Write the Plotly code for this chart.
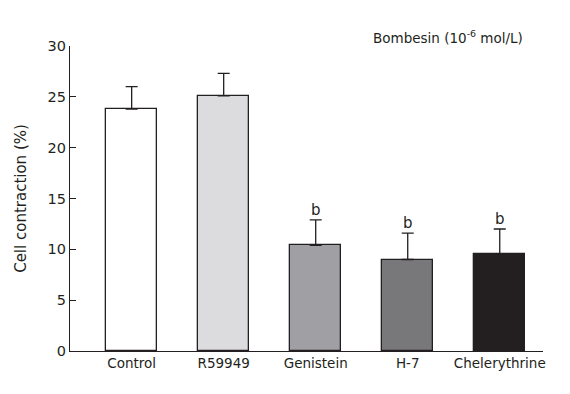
import plotly.graph_objects as go

categories = ["Control", "R59949", "Genistein", "H-7", "Chelerythrine"]
values = [23.8, 25.1, 10.4, 9.0, 9.5]
errors = [2.2, 2.2, 2.5, 2.6, 2.5]
sig_labels = ["", "", "b", "b", "b"]
colors = ["#ffffff", "#dcdcde", "#a0a0a4", "#78787a", "#231f20"]
y_ticks = [0, 5, 10, 15, 20, 25, 30]

font_family = "DejaVu Sans, Verdana, sans-serif"
txt_color = "#231f20"

fig = go.Figure()
fig.add_trace(go.Bar(
    x=list(range(len(categories))),
    y=values,
    width=0.555,
    marker=dict(color=colors, line=dict(color="#231f20", width=1.3)),
    error_y=dict(type="data", array=errors, arrayminus=[0]*len(errors),
                 symmetric=False, color="#231f20", thickness=1.3, width=6),
    showlegend=False,
))

annotations = []
for i, (v, e, s) in enumerate(zip(values, errors, sig_labels)):
    if s:
        annotations.append(dict(x=i, y=v + e, text=s, showarrow=False,
                                yanchor="bottom", yshift=-1,
                                font=dict(family=font_family, size=15, color=txt_color)))
annotations.append(dict(xref="paper", yref="paper", x=0.962, y=1.0,
                        xanchor="right", yanchor="middle", yshift=9,
                        text="Bombesin (10<sup>-6</sup> mol/L)", showarrow=False,
                        font=dict(family=font_family, size=13.5, color=txt_color)))

fig.update_layout(
    width=554, height=378,
    margin=dict(l=62, r=19, t=38, b=35),
    plot_bgcolor="white", paper_bgcolor="white",
    font=dict(family=font_family, size=13.5, color=txt_color),
    annotations=annotations,
    bargap=0,
    xaxis=dict(range=[-0.67, 4.47], tickmode="array",
               tickvals=list(range(len(categories))), ticktext=categories,
               showline=True, linecolor="#231f20", linewidth=1.3,
               ticks="", showgrid=False, zeroline=False, fixedrange=True,
               tickfont=dict(family=font_family, size=13.5, color=txt_color)),
    yaxis=dict(range=[0, 30], tickmode="array", tickvals=y_ticks,
               ticks="inside", ticklen=6, tickwidth=1.3, tickcolor="#231f20",
               showline=True, linecolor="#231f20", linewidth=1.3,
               showgrid=False, zeroline=False,
               title=dict(text="Cell contraction (%)", standoff=17,
                          font=dict(family=font_family, size=15, color=txt_color)),
               tickfont=dict(family=font_family, size=14.5, color=txt_color)),
)

fig.write_html("out.html")
